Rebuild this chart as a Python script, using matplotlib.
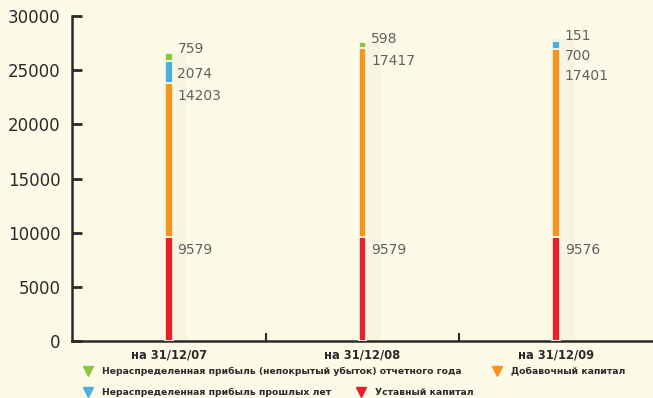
import numpy as np
import matplotlib.pyplot as plt
from matplotlib.lines import Line2D

BG = '#FDFBE8'

# -- Data ----------------------------------------------------------------------
dates = ['на 31/12/07', 'на 31/12/08', 'на 31/12/09']
ustavny = [9579, 9579, 9576]          # Уставный капитал
dobavochny = [14203, 17417, 17401]    # Добавочный капитал
proshlye = [2074, 0, 700]             # Нераспределенная прибыль прошлых лет
otchetny = [759, 598, 151]            # Нераспределенная прибыль отчетного года

series = [
    (ustavny, '#E8202A', 'Уставный капитал'),
    (dobavochny, '#F7941D', 'Добавочный капитал'),
    (proshlye, '#4BAEE0', 'Нераспределенная прибыль прошлых лет'),
    (otchetny, '#8CC63F', 'Нераспределенная прибыль (непокрытый убыток) отчетного года'),
]

BAR_W = 0.04
LABEL_DX = 0.045

fig = plt.figure(figsize=(6.53, 3.98), dpi=100, facecolor=BG)
ax = fig.add_axes([0.110, 0.143, 0.89, 0.817], facecolor=BG)

x = np.arange(len(dates))
bottom = np.zeros(len(dates))
tops = []
for vals, color, name in series:
    vals = np.array(vals, dtype=float)
    # faint shadow to the right of each stroke
    ax.bar(x + 0.035, vals, BAR_W * 3, bottom=bottom,
           color='#000000', alpha=0.025, zorder=1, linewidth=0)
    ax.bar(x, vals, BAR_W, bottom=bottom, color=color, edgecolor=BG,
           linewidth=1.2, zorder=3)
    bottom = bottom + vals
    tops.append(bottom.copy())

# value labels: stacked from the top down, never above their own segment
for i in range(len(dates)):
    prev = None
    for k in range(len(series) - 1, -1, -1):
        v = series[k][0][i]
        if v == 0:
            continue
        own = tops[k][i] - 1200
        if prev is None:
            y = tops[k][i] + 300
        else:
            y = min(own, prev - 1850)
        prev = y
        ax.text(x[i] + LABEL_DX, y, f'{v}', fontsize=10, color='#606060',
                va='center', ha='left', zorder=4)

ax.set_xlim(-0.5, 2.5)
ax.set_ylim(0, 30000)
ax.set_yticks(np.arange(0, 30001, 5000))
ax.set_xticks(x)
ax.set_xticklabels(dates, fontsize=8.3, color='#2a2a2a', fontweight='bold')
ax.set_xticks([0.5, 1.5], minor=True)

for s in ['top', 'right']:
    ax.spines[s].set_visible(False)
for s in ['left', 'bottom']:
    ax.spines[s].set_linewidth(1.8)
    ax.spines[s].set_color('#2a2a2a')

ax.tick_params(axis='y', direction='in', length=7, width=2, colors='#2a2a2a',
               labelsize=12, pad=8)
ax.tick_params(axis='x', which='major', length=0, pad=5)
ax.tick_params(axis='x', which='minor', direction='in', length=6, width=1.5,
               colors='#2a2a2a')

# legend, two rows laid out like the original
def handle(color):
    return Line2D([], [], marker='v', color=color, linestyle='none', markersize=7)

row1 = [series[3], series[1]]
row2 = [series[2], series[0]]
leg1 = fig.legend([handle(c) for _, c, _ in row1], [n for _, _, n in row1],
                  loc='upper left', bbox_to_anchor=(0.120, 0.088), ncol=2,
                  frameon=False, prop={'size': 6.7, 'weight': 'bold'},
                  handletextpad=0.9, columnspacing=3.2, borderaxespad=0,
                  handlelength=1.2)
leg2 = fig.legend([handle(c) for _, c, _ in row2], [n for _, _, n in row2],
                  loc='upper left', bbox_to_anchor=(0.120, 0.035), ncol=2,
                  frameon=False, prop={'size': 6.7, 'weight': 'bold'},
                  handletextpad=0.9, columnspacing=2.7, borderaxespad=0,
                  handlelength=1.2)
for leg in (leg1, leg2):
    for t in leg.get_texts():
        t.set_color('#2a2a2a')

fig.savefig('out.png', dpi=100, facecolor=BG)
